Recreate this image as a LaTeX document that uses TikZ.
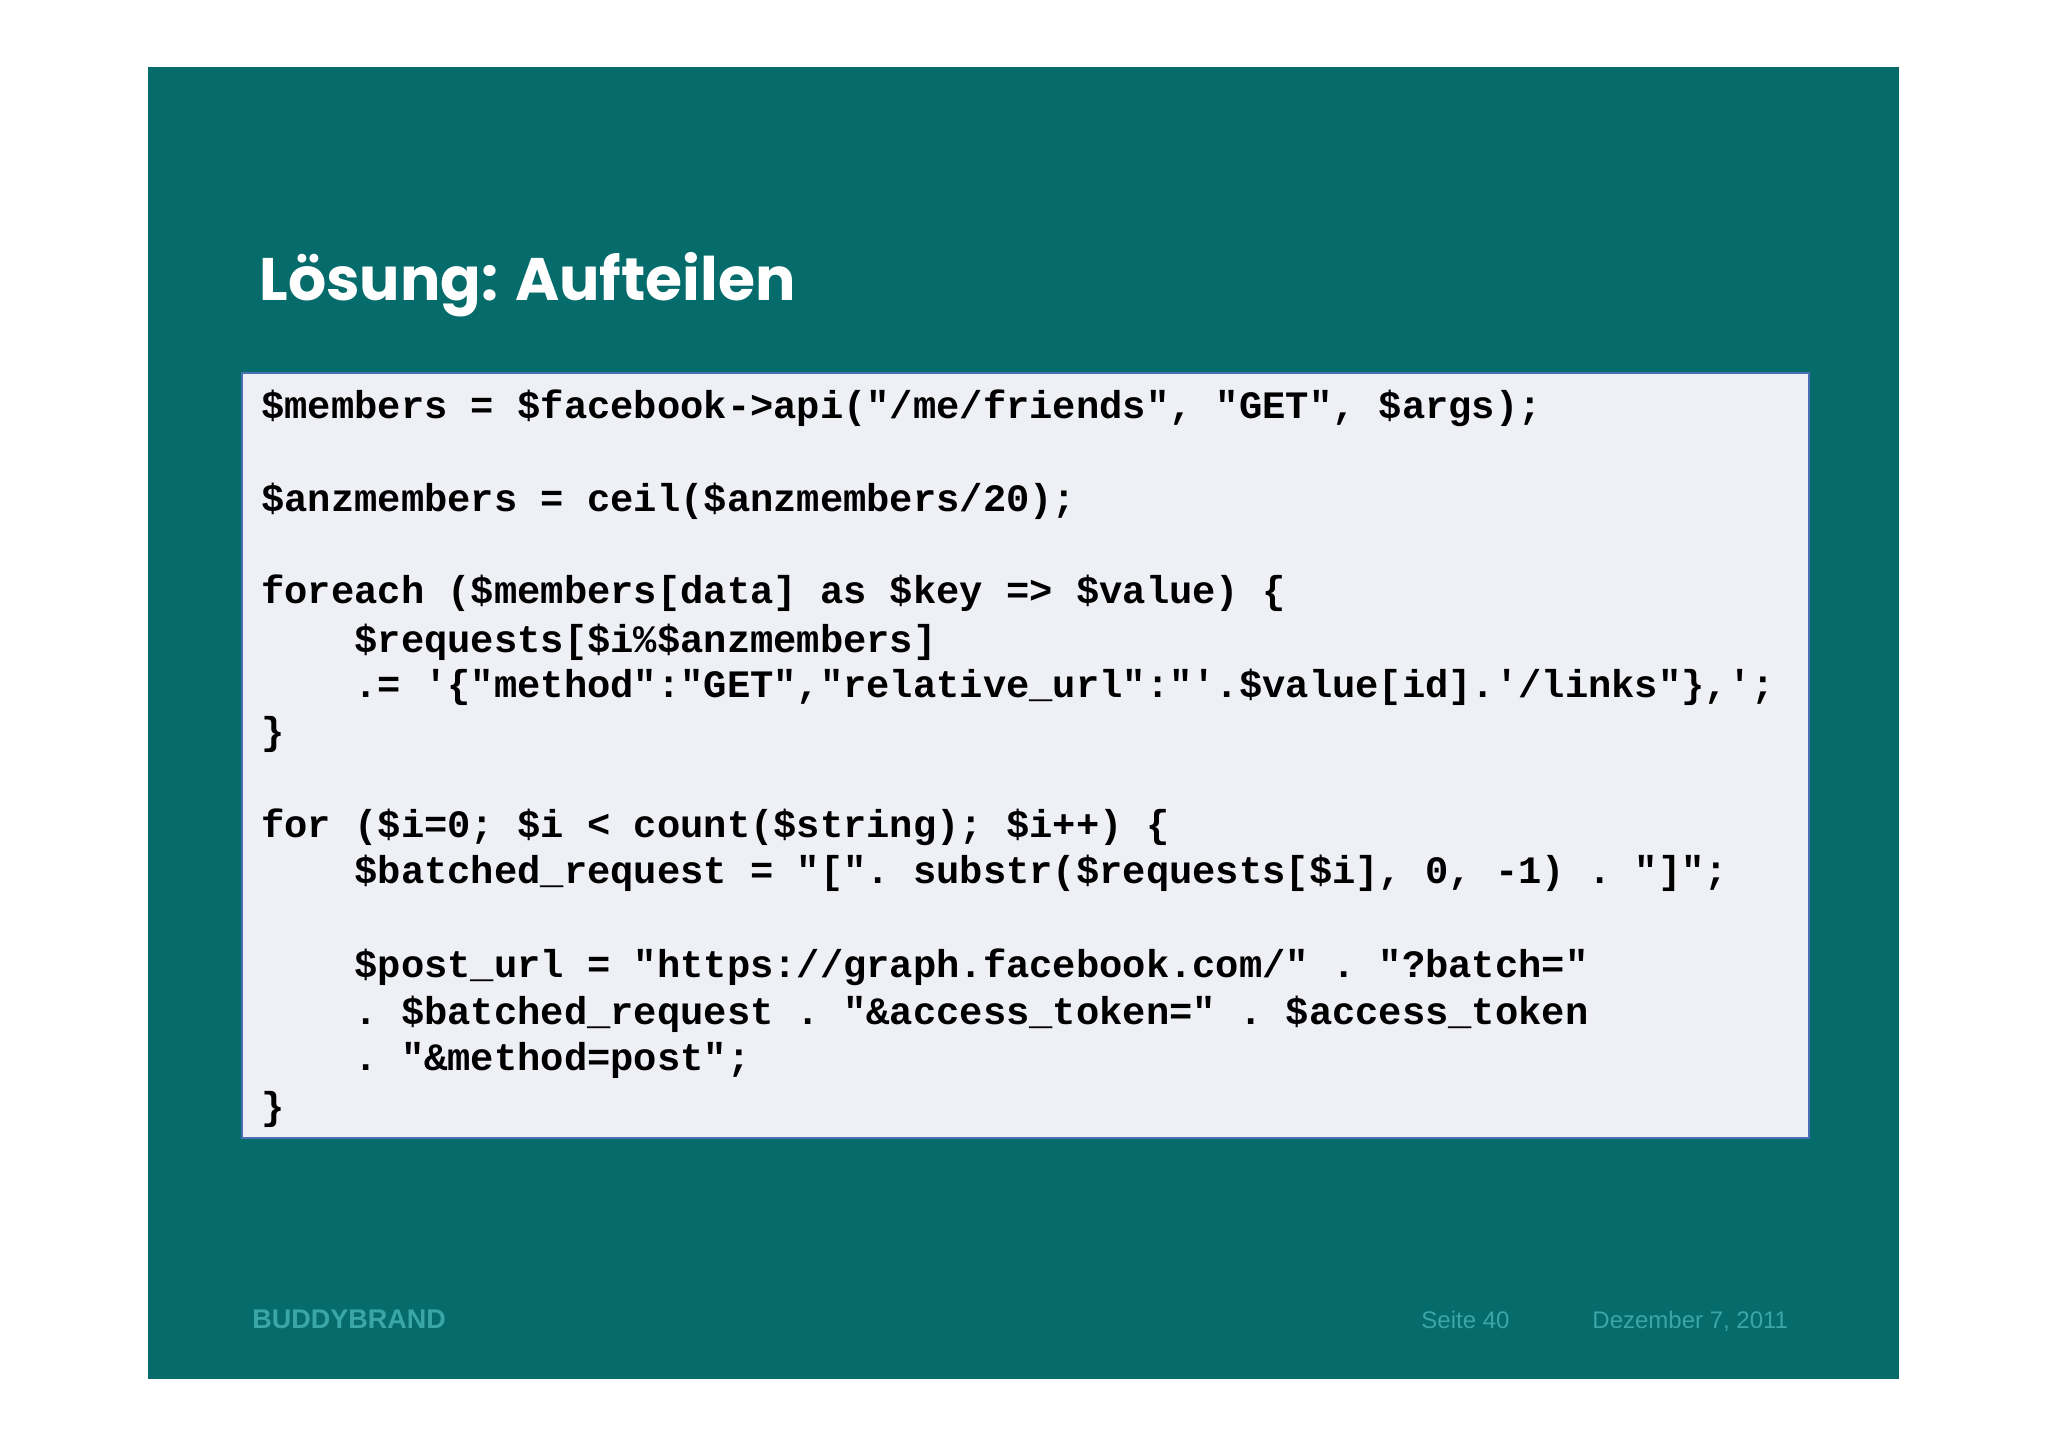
\documentclass[tikz,border=0pt]{standalone}
\usepackage{fontspec}
\setmainfont{Liberation Sans}
\setmonofont{Liberation Mono}
\newfontfamily\titlefont{Poppins}
\definecolor{bg}{HTML}{056B6B}
\definecolor{codebg}{HTML}{EEF0F6}
\definecolor{codeframe}{HTML}{4A6FB5}
\definecolor{foot}{HTML}{3AA6A6}
\begin{document}
\begin{tikzpicture}[x=0.5pt,y=-0.5pt,
  code/.style={anchor=base west,inner sep=0pt,font=\fontsize{19.4}{23}\selectfont\ttfamily\bfseries,text=black},
  foottext/.style={anchor=base west,inner sep=0pt,text=foot}]
\useasboundingbox (0,0) rectangle (2048,1447);
\fill[white] (0,0) rectangle (2048,1447);
\fill[bg] (148,67) rectangle (1899,1379);
\node[anchor=base west,inner sep=0pt,text=white,font=\fontsize{30}{36}\selectfont\titlefont\bfseries] (title) at (259,300) {Lösung: Aufteilen};
\draw[codeframe,line width=1.2pt,fill=codebg] (242,373) rectangle (1809,1138);
\node[code] (l1) at (261,418) {\$members = \$facebook->api("/me/friends", "GET", \$args);};
\node[code] (l2) at (261,511) {\$anzmembers = ceil(\$anzmembers/20);};
\node[code] (l3) at (261,603) {foreach (\$members[data] as \$key => \$value) \{};
\node[code] (l4) at (261,652) {\phantom{xxxx}\$requests[\$i\%\$anzmembers]};
\node[code] (l5) at (261,697) {\phantom{xxxx}.= '\{"method":"GET","relative\_url":"'.\$value[id].'/links"\},';};
\node[code] (l6) at (261,744) {\}};
\node[code] (l7) at (261,837) {for (\$i=0; \$i < count(\$string); \$i++) \{};
\node[code] (l8) at (261,883) {\phantom{xxxx}\$batched\_request = "[". substr(\$requests[\$i], 0, -1) . "]";};
\node[code] (l9) at (261,977) {\phantom{xxxx}\$post\_url = "https://graph.facebook.com/" . "?batch="};
\node[code] (l10) at (261,1024) {\phantom{xxxx}. \$batched\_request . "\&access\_token=" . \$access\_token};
\node[code] (l11) at (261,1070) {\phantom{xxxx}. "\&method=post";};
\node[code] (l12) at (261,1119) {\}};
\node[foottext,font=\fontsize{13.5}{16}\selectfont\bfseries] (brand) at (252,1328) {BUDDYBRAND};
\node[foottext,font=\fontsize{12}{14}\selectfont] (page) at (1421,1328) {Seite 40};
\node[foottext,font=\fontsize{12}{14}\selectfont] (date) at (1592,1328) {Dezember 7, 2011};
\end{tikzpicture}
\end{document}
